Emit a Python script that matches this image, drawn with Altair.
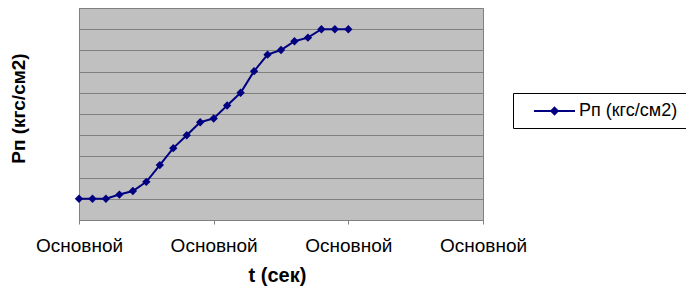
import altair as alt
import pandas as pd

# data (y in gridline units, x as sample index)
t_index = list(range(21))
pressure = [1.0, 1.0, 1.0, 1.2, 1.37, 1.8, 2.59, 3.39, 4.0, 4.61, 4.79,
            5.4, 6.0, 7.02, 7.8, 8.02, 8.43, 8.6, 9.0, 9.0, 9.0]
series_name = ["Рп (кгс/см2)"] * 21
x_ticks = [0, 10, 20, 30]
x_tick_label = "Основной"

df = pd.DataFrame({"t": t_index, "p": pressure, "s": series_name})

FONT = "Arial, Liberation Sans"
NAVY = "#000080"
GRID = "#808080"

sym_path = "M0.33,0H4.89M2.61,-0.36L2.97,0L2.61,0.36L2.25,0Z"

x_enc = alt.X(
    "t:Q",
    scale=alt.Scale(domain=[0, 30], nice=False, zero=False),
    axis=alt.Axis(
        values=x_ticks,
        labelExpr=f"'{x_tick_label}'",
        title="t (сек)",
        grid=False,
        domainColor=GRID,
        tickColor=GRID,
        tickSize=4,
        labelPadding=12,
        labelFlush=False,
        labelOverlap=False,
        labelFont=FONT,
        labelFontSize=19,
        labelColor="black",
        labelBaseline="top",
        titleFont=FONT,
        titleFontSize=20,
        titleFontWeight="bold",
        titleColor="black",
        titleX=198,
        titleY=55,
        titleBaseline="middle",
    ),
)
y_enc = alt.Y(
    "p:Q",
    scale=alt.Scale(domain=[0, 10], nice=False),
    axis=alt.Axis(
        values=list(range(11)),
        labels=False,
        ticks=False,
        grid=True,
        gridColor=GRID,
        gridWidth=1,
        domainColor=GRID,
        title="Рп (кгс/см2)",
        titleFont=FONT,
        titleFontSize=19,
        titleFontWeight="bold",
        titleColor="black",
        titleAngle=-90,
        titleX=-61,
        titleY=100,
        titleBaseline="middle",
        titleAlign="center",
    ),
)

color_enc = alt.Color(
    "s:N",
    scale=alt.Scale(range=[NAVY]),
    legend=alt.Legend(
        title=None,
        orient="none",
        legendX=434,
        legendY=85,
        padding=8,
        strokeColor="black",
        fillColor="white",
        symbolType=sym_path,
        symbolSize=324,
        symbolStrokeWidth=2,
        symbolFillColor=NAVY,
        symbolStrokeColor=NAVY,
        labelOffset=38,
        labelFont=FONT,
        labelFontSize=18,
        labelColor="black",
        labelLimit=300,
    ),
)

line = alt.Chart(df).mark_line(strokeWidth=2).encode(x=x_enc, y=y_enc, color=color_enc)
pts = alt.Chart(df).mark_point(shape="diamond", filled=True, size=70, opacity=1, color=NAVY).encode(
    x=x_enc, y=y_enc
)

chart = (
    alt.layer(line, pts)
    .properties(
        width=404,
        height=212,
        autosize=alt.AutoSizeParams(type="none"),
        padding={"left": 71, "top": 0, "right": 203, "bottom": 67},
        background="white",
    )
    .configure_view(fill="#C0C0C0", stroke=GRID, strokeWidth=1)
)

chart.save("out.html", embed_options={"renderer": "svg", "actions": False})
